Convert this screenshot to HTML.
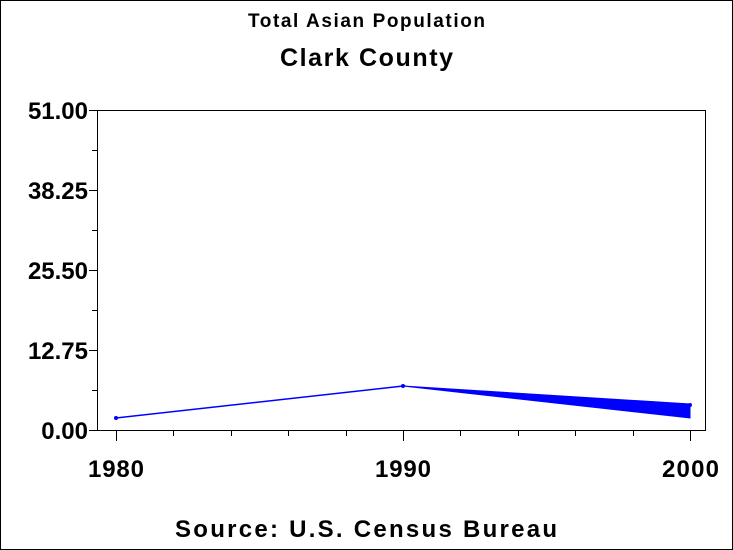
<!DOCTYPE html>
<html><head><style>
body{margin:0;background:#fff}
svg{display:block}
text{font-family:"Liberation Sans",sans-serif;font-weight:bold;fill:#000}
</style></head><body>
<svg width="733" height="550" xmlns="http://www.w3.org/2000/svg">
<rect x="0.5" y="0.5" width="732" height="549" fill="#fff" stroke="#000"/>
<text x="248" y="27" font-size="19" font-weight="normal" textLength="237" lengthAdjust="spacing">Total Asian Population</text>
<text x="280" y="66" font-size="25" textLength="173" lengthAdjust="spacing">Clark County</text>
<rect x="97.5" y="110.5" width="608" height="320" fill="none" stroke="#000"/>
<g stroke="#000">
<line x1="89" y1="110.5" x2="97" y2="110.5"/><line x1="92" y1="150.5" x2="97" y2="150.5"/>
<line x1="89" y1="190.5" x2="97" y2="190.5"/><line x1="92" y1="230.5" x2="97" y2="230.5"/>
<line x1="89" y1="270.5" x2="97" y2="270.5"/><line x1="92" y1="310.5" x2="97" y2="310.5"/>
<line x1="89" y1="350.5" x2="97" y2="350.5"/><line x1="92" y1="390.5" x2="97" y2="390.5"/>
<line x1="89" y1="430.5" x2="97" y2="430.5"/>
<line x1="116.5" y1="430" x2="116.5" y2="441"/><line x1="173.5" y1="430" x2="173.5" y2="436"/>
<line x1="231.5" y1="430" x2="231.5" y2="436"/><line x1="288.5" y1="430" x2="288.5" y2="436"/>
<line x1="346.5" y1="430" x2="346.5" y2="436"/><line x1="403.5" y1="430" x2="403.5" y2="441"/>
<line x1="460.5" y1="430" x2="460.5" y2="436"/><line x1="518.5" y1="430" x2="518.5" y2="436"/>
<line x1="575.5" y1="430" x2="575.5" y2="436"/><line x1="633.5" y1="430" x2="633.5" y2="436"/>
<line x1="690.5" y1="430" x2="690.5" y2="441"/>
</g>
<g font-size="24" text-anchor="end">
<text x="88" y="119">51.00</text><text x="88" y="199">38.25</text>
<text x="88" y="279">25.50</text><text x="88" y="359">12.75</text>
<text x="88" y="439">0.00</text>
</g>
<g font-size="24">
<text x="88" y="477" textLength="56">1980</text><text x="375" y="477" textLength="56">1990</text><text x="662" y="477" textLength="57">2000</text>
</g>
<text x="175" y="537" font-size="24" textLength="382" lengthAdjust="spacing">Source: U.S. Census Bureau</text>
<line x1="116" y1="418" x2="403" y2="386" stroke="#00f" stroke-width="1.5"/>
<polygon points="403,386 690,404 690,418" fill="#00f" stroke="#00f"/>
<circle cx="116" cy="418" r="2" fill="#00f"/><circle cx="403" cy="386" r="2" fill="#00f"/>
<circle cx="690" cy="405" r="2" fill="#00f"/>
</svg>
</body></html>
